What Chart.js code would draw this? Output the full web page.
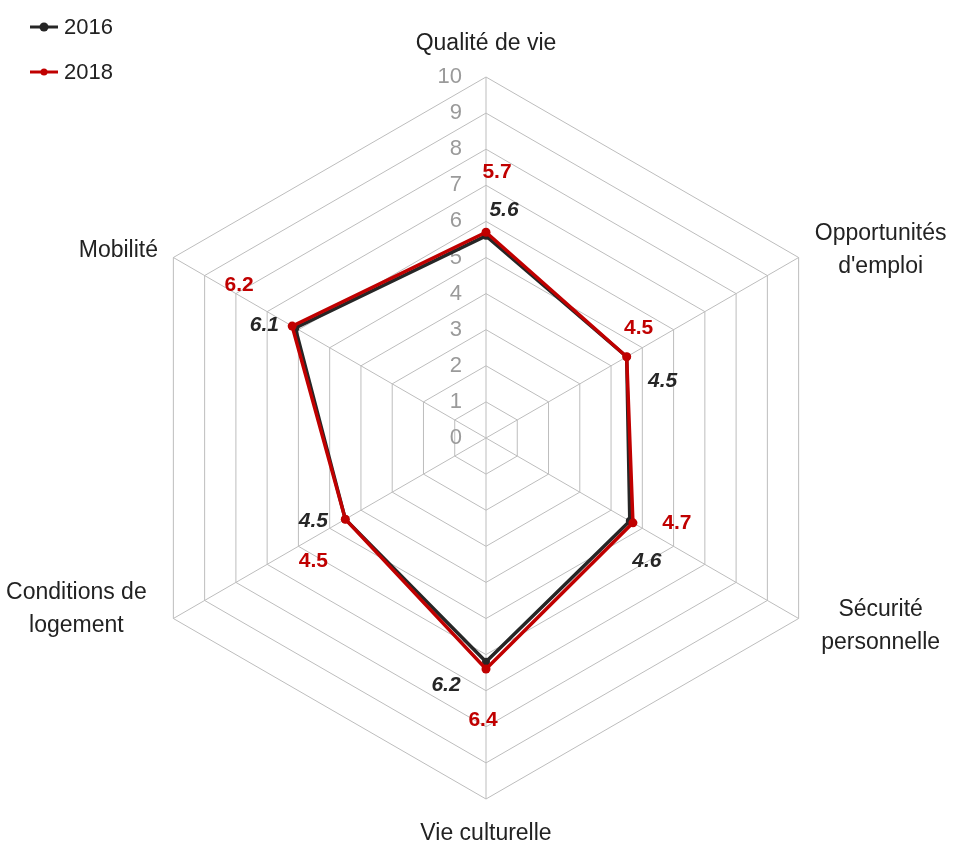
<!DOCTYPE html>
<html>
<head>
<meta charset="utf-8">
<script src="https://cdn.jsdelivr.net/npm/chart.js@4/dist/chart.umd.min.js"></script>
<style>
  html, body { margin: 0; padding: 0; background: #fff; }
  #wrap { width: 954px; height: 844px; }
</style>
</head>
<body>
<div id="wrap"><canvas id="radar" width="954" height="844"></canvas></div>
<script>
// categories and values
const categories = ["Qualité de vie", "Opportunités\nd'emploi", "Sécurité\npersonnelle",
                    "Vie culturelle", "Conditions de\nlogement", "Mobilité"];
const values2016 = [5.6, 4.5, 4.6, 6.2, 4.5, 6.1];
const values2018 = [5.7, 4.5, 4.7, 6.4, 4.5, 6.2];
const tickValues = [0, 1, 2, 3, 4, 5, 6, 7, 8, 9, 10];
const seriesNames = ["2016", "2018"];

const FONT = '"Liberation Sans", Arial, sans-serif';
const DARK = "#262626";
const RED = "#c00000";

// where each value label sits relative to its point (px)
const offs2016 = [[18, -26], [36, 24], [17, 40], [-40, 23], [-32, 2], [-31, -3]];
const offs2018 = [[11, -60], [12, -29], [44, 0], [-3, 51], [-32, 42], [-53, -41]];
// category label anchors relative to each outer vertex
const catOffs = [[0, -33], [82, -7], [82, 8], [0, 35], [-97, -9], [-55, -7]];

const overlay = {
    id: "overlay",
    beforeDatasetsDraw(chart) {
        const ctx = chart.ctx;
        const r = chart.scales.r;
        ctx.save();
        ctx.font = "22px " + FONT;
        ctx.fillStyle = "#9a9a9a";
        ctx.textAlign = "right";
        ctx.textBaseline = "middle";
        tickValues.forEach(v => {
            ctx.fillText(String(v), r.xCenter - 24, r.yCenter - r.getDistanceFromCenterForValue(v));
        });
        ctx.restore();
    },
    afterDatasetsDraw(chart) {
        const ctx = chart.ctx;
        const r = chart.scales.r;
        ctx.save();
        ctx.textAlign = "center";
        ctx.textBaseline = "middle";

        // category labels
        ctx.font = "23px " + FONT;
        ctx.fillStyle = "#222";
        categories.forEach((c, i) => {
            const p = r.getPointPosition(i, r.drawingArea);
            const x = p.x + catOffs[i][0], y = p.y + catOffs[i][1];
            const lines = c.split("\n");
            const lh = 33;
            lines.forEach((ln, k) => {
                ctx.fillText(ln, x, y + (k - (lines.length - 1) / 2) * lh);
            });
        });

        // value labels
        const m16 = chart.getDatasetMeta(0).data;
        const m18 = chart.getDatasetMeta(1).data;
        ctx.font = "italic bold 21px " + FONT;
        ctx.fillStyle = DARK;
        values2016.forEach((v, i) => {
            ctx.fillText(v.toFixed(1), m16[i].x + offs2016[i][0], m16[i].y + offs2016[i][1]);
        });
        ctx.font = "bold 21px " + FONT;
        ctx.fillStyle = RED;
        values2018.forEach((v, i) => {
            ctx.fillText(v.toFixed(1), m18[i].x + offs2018[i][0], m18[i].y + offs2018[i][1]);
        });

        // legend
        const cols = [DARK, RED];
        seriesNames.forEach((name, k) => {
            const y = 27 + k * 45;
            ctx.strokeStyle = cols[k];
            ctx.lineWidth = 3;
            ctx.beginPath();
            ctx.moveTo(30, y);
            ctx.lineTo(58, y);
            ctx.stroke();
            ctx.fillStyle = cols[k];
            ctx.beginPath();
            ctx.arc(44, y, k === 0 ? 4.5 : 3.5, 0, Math.PI * 2);
            ctx.fill();
            ctx.fillStyle = "#222";
            ctx.font = "22px " + FONT;
            ctx.textAlign = "left";
            ctx.fillText(name, 64, y + 1);
        });
        ctx.restore();
    }
};

new Chart(document.getElementById("radar").getContext("2d"), {
    type: "radar",
    data: {
        labels: categories,
        datasets: [
            {
                label: seriesNames[0],
                data: values2016,
                borderColor: DARK,
                backgroundColor: DARK,
                borderWidth: 3.5,
                pointRadius: 4,
                pointBorderWidth: 0,
                fill: false,
                order: 1,
            },
            {
                label: seriesNames[1],
                data: values2018,
                borderColor: RED,
                backgroundColor: RED,
                borderWidth: 3.5,
                pointRadius: 4.5,
                pointBorderWidth: 0,
                fill: false,
                order: 0,
            },
        ],
    },
    options: {
        responsive: false,
        animation: false,
        layout: { padding: { top: 77, bottom: 45, left: 125, right: 107 } },
        elements: { line: { tension: 0 } },
        plugins: {
            legend: { display: false },
            tooltip: { enabled: false },
        },
        scales: {
            r: {
                min: 0,
                max: 10,
                ticks: { display: false, stepSize: 1 },
                grid: { color: "#bdbdbd", lineWidth: 1 },
                angleLines: { color: "#bdbdbd", lineWidth: 1 },
                pointLabels: { display: false },
            },
        },
    },
    plugins: [overlay],
});
</script>
</body>
</html>
